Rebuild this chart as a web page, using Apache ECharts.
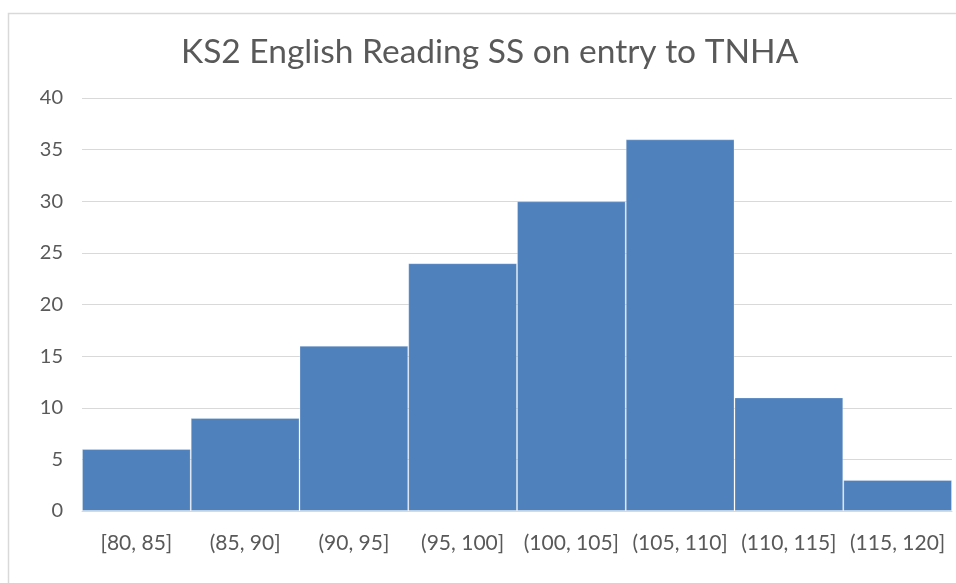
<!DOCTYPE html>
<html>
<head>
<meta charset="utf-8">
<script src="https://cdn.jsdelivr.net/npm/echarts@6/dist/echarts.min.js"></script>
<style>
html,body{margin:0;padding:0;background:#fff;}
#chart{width:956px;height:583px;}
</style>
</head>
<body>
<div id="chart"></div>
<script>
var categories = ['[80, 85]', '(85, 90]', '(90, 95]', '(95, 100]', '(100, 105]', '(105, 110]', '(110, 115]', '(115, 120]'];
var counts = [6, 9, 16, 24, 30, 36, 11, 3];
var titleText = 'KS2 English Reading SS on entry to TNHA';

var chart = echarts.init(document.getElementById('chart'), null, {renderer: 'canvas'});
chart.setOption({
  animation: false,
  backgroundColor: '#ffffff',
  title: {
    text: titleText,
    left: 176,
    top: 30,
    textStyle: {fontFamily: 'Lato', fontWeight: 'normal', fontSize: 33.5, color: '#595959'}
  },
  graphic: [{
    type: 'rect',
    shape: {x: 8.5, y: 13.5, width: 1200, height: 1000},
    style: {fill: 'none', stroke: '#d9d9d9', lineWidth: 1.5},
    silent: true
  }],
  grid: {left: 82, right: 4, top: 98, bottom: 72, containLabel: false},
  xAxis: {
    type: 'category',
    data: categories,
    axisLine: {show: true, lineStyle: {color: '#d9d9d9', width: 1}},
    axisTick: {show: false},
    axisLabel: {color: '#595959', fontFamily: 'Lato', fontSize: 21, margin: 22, interval: 0}
  },
  yAxis: {
    type: 'value',
    min: 0, max: 40, interval: 5,
    axisLine: {show: false},
    axisTick: {show: false},
    splitLine: {lineStyle: {color: '#d9d9d9', width: 1}},
    axisLabel: {color: '#595959', fontFamily: 'Lato', fontSize: 20, margin: 19}
  },
  series: [{
    type: 'bar',
    data: counts,
    barCategoryGap: '0%',
    itemStyle: {color: '#4f81bd', borderColor: 'rgba(255,255,255,0.25)', borderWidth: 1}
  }]
});
</script>
</body>
</html>
